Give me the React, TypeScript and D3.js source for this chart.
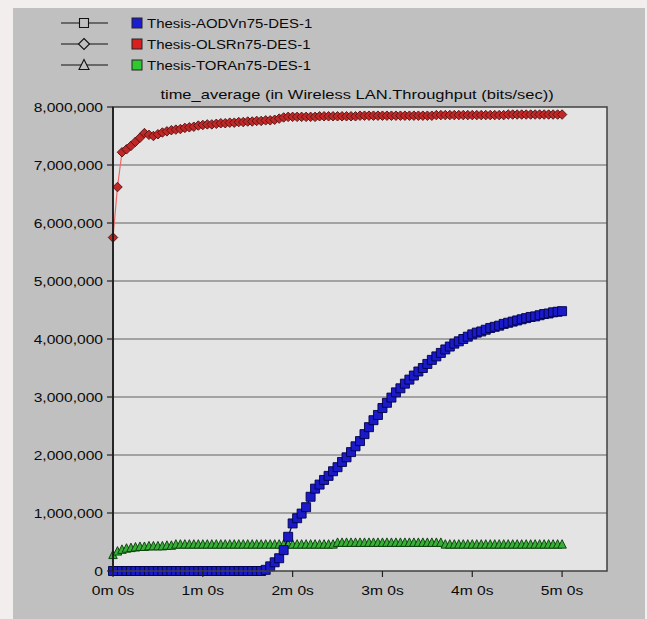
import React from "react";
import * as d3 from "d3";

const W = 647;
const H = 619;

// sample times in minutes (one sample every 3 s)
const times: number[] = d3.range(0, 101).map((i) => i * 0.05);

// values in millions of bits/sec
const olsr: number[] = [
  5.75, 6.62, 7.22, 7.27, 7.33, 7.40, 7.47, 7.55, 7.52, 7.50,
  7.53, 7.56, 7.58, 7.60, 7.61, 7.62, 7.64, 7.65, 7.66, 7.68,
  7.69, 7.70, 7.70, 7.71, 7.72, 7.72, 7.73, 7.73, 7.74, 7.74,
  7.75, 7.75, 7.76, 7.76, 7.77, 7.77, 7.78, 7.80, 7.82, 7.83,
  7.83, 7.83, 7.83, 7.83, 7.83, 7.83, 7.84, 7.84, 7.84, 7.84,
  7.84, 7.84, 7.84, 7.84, 7.84, 7.85, 7.85, 7.85, 7.85, 7.85,
  7.85, 7.85, 7.85, 7.85, 7.85, 7.85, 7.85, 7.85, 7.85, 7.85,
  7.85, 7.85, 7.86, 7.86, 7.86, 7.86, 7.86, 7.86, 7.86, 7.86,
  7.86, 7.86, 7.86, 7.86, 7.86, 7.86, 7.86, 7.86, 7.87, 7.87,
  7.87, 7.87, 7.87, 7.87, 7.87, 7.87, 7.87, 7.87, 7.87, 7.87,
  7.87,
];

const aodv: number[] = [
  0, 0, 0, 0, 0, 0, 0, 0, 0, 0,
  0, 0, 0, 0, 0, 0, 0, 0, 0, 0,
  0, 0, 0, 0, 0, 0, 0, 0, 0, 0,
  0, 0, 0, 0, 0.02, 0.08, 0.15, 0.22, 0.36, 0.59,
  0.82, 0.91, 0.99, 1.10, 1.28, 1.42, 1.49, 1.57, 1.64, 1.72,
  1.79, 1.88, 1.96, 2.05, 2.15, 2.24, 2.36, 2.48, 2.60, 2.69,
  2.81, 2.90, 2.99, 3.08, 3.15, 3.23, 3.30, 3.37, 3.44, 3.50,
  3.57, 3.64, 3.70, 3.76, 3.82, 3.87, 3.92, 3.96, 4.00, 4.04,
  4.08, 4.11, 4.13, 4.16, 4.19, 4.21, 4.23, 4.26, 4.28, 4.30,
  4.32, 4.34, 4.36, 4.38, 4.39, 4.41, 4.43, 4.44, 4.46, 4.47,
  4.48,
];

const tora: number[] = [
  0.28, 0.34, 0.37, 0.39, 0.40, 0.41, 0.42, 0.42, 0.43, 0.43,
  0.43, 0.43, 0.44, 0.44, 0.46, 0.46, 0.46, 0.46, 0.46, 0.46,
  0.46, 0.46, 0.46, 0.46, 0.46, 0.46, 0.46, 0.46, 0.46, 0.46,
  0.46, 0.46, 0.46, 0.46, 0.46, 0.46, 0.46, 0.46, 0.46, 0.46,
  0.46, 0.46, 0.46, 0.46, 0.46, 0.46, 0.46, 0.46, 0.46, 0.46,
  0.49, 0.49, 0.49, 0.49, 0.49, 0.49, 0.49, 0.49, 0.49, 0.49,
  0.49, 0.49, 0.49, 0.49, 0.49, 0.49, 0.49, 0.49, 0.49, 0.49,
  0.49, 0.49, 0.49, 0.49, 0.46, 0.46, 0.46, 0.46, 0.46, 0.46,
  0.46, 0.46, 0.46, 0.46, 0.46, 0.46, 0.46, 0.46, 0.46, 0.46,
  0.46, 0.46, 0.46, 0.46, 0.46, 0.46, 0.46, 0.46, 0.46, 0.46,
  0.46,
];

const seriesNames = ["Thesis-AODVn75-DES-1", "Thesis-OLSRn75-DES-1", "Thesis-TORAn75-DES-1"];
const yTicks = [0, 1e6, 2e6, 3e6, 4e6, 5e6, 6e6, 7e6, 8e6];
const xTicks = [0, 1, 2, 3, 4, 5];
const xTickLabels = ["0m 0s", "1m 0s", "2m 0s", "3m 0s", "4m 0s", "5m 0s"];
const title = "time_average (in Wireless LAN.Throughput (bits/sec))";

const FONT = "'Liberation Sans', Arial, sans-serif";

function squarePath(s: number) {
  return `M${-s / 2},${-s / 2}h${s}v${s}h${-s}Z`;
}
function diamondPath(s: number) {
  return `M0,${-s / 2}L${s / 2},0L0,${s / 2}L${-s / 2},0Z`;
}
function trianglePath(s: number) {
  return `M0,${-s * 0.55}L${s / 2},${s * 0.45}L${-s / 2},${s * 0.45}Z`;
}

function Txt(props: { x: number; y: number; anchor?: string; children: string; size?: number; sx?: number }) {
  const { x, y, anchor = "start", children, size = 13, sx = 1.2 } = props;
  return (
    <text
      transform={`translate(${x},${y}) scale(${sx},1)`}
      textAnchor={anchor}
      fontFamily={FONT}
      fontSize={size}
      fill="#0a0a0a"
    >
      {children}
    </text>
  );
}

export default function App() {
  const x = d3.scaleLinear().domain([0, 5.5]).range([113, 607]);
  const y = d3.scaleLinear().domain([0, 8e6]).range([571, 107]);
  const fmt = d3.format(",");

  const line = d3
    .line<number>()
    .x((_, i) => x(times[i]))
    .y((v) => y(v * 1e6));

  const series = [
    { data: tora, line: "#0a3a0a", fill: "#38b038", stroke: "#083808", shape: trianglePath(8.5) },
    { data: aodv, line: "#00004a", fill: "#1a1ac8", stroke: "#000048", shape: squarePath(9) },
    { data: olsr, line: "#e86a6a", fill: "#c02828", stroke: "#501010", shape: diamondPath(9.5) },
  ];

  const legendY = [23, 44, 65];
  const legendShapes = [squarePath(9), diamondPath(11), trianglePath(10)];
  const legendColors = ["#1c1cd0", "#d82020", "#30c830"];

  return (
    <svg
      width={W}
      height={H}
      style={{ position: "absolute", left: 0, top: 0 }}
    >
      <rect x={0} y={0} width={W} height={H} fill="#f3eeee" />
      <rect x={13} y={8} width={632} height={H - 8} fill="#c0c0c0" />

      {/* legend */}
      {seriesNames.map((name, i) => (
        <g key={name}>
          <line x1={61} x2={108} y1={legendY[i]} y2={legendY[i]} stroke="#111" strokeWidth={1.2} />
          <path d={legendShapes[i]} transform={`translate(84,${legendY[i]})`} fill="#c0c0c0" stroke="#111" strokeWidth={1.1} />
          <rect x={132} y={legendY[i] - 5} width={10} height={10} fill={legendColors[i]} stroke="#222" strokeWidth={1} />
          <Txt x={147} y={legendY[i] + 5} sx={1.15}>{name}</Txt>
        </g>
      ))}

      {/* title */}
      <Txt x={357} y={99} anchor="middle" sx={1.27}>{title}</Txt>

      {/* plot bg */}
      <rect x={113} y={107} width={494} height={464} fill="#e4e4e4" />

      {/* gridlines */}
      {yTicks.slice(1, -1).map((t) => (
        <line key={t} x1={113} x2={607} y1={y(t)} y2={y(t)} stroke="#8c8c8c" strokeWidth={1.5} />
      ))}

      {/* series */}
      {series.map((s, k) => (
        <g key={k}>
          <path d={line(s.data) || ""} fill="none" stroke={s.line} strokeWidth={1.2} />
          {s.data.map((v, i) => (
            <path
              key={i}
              d={s.shape}
              transform={`translate(${x(times[i])},${y(v * 1e6)})`}
              fill={s.fill}
              stroke={s.stroke}
              strokeWidth={0.9}
            />
          ))}
        </g>
      ))}

      {/* frame */}
      <rect x={113} y={107} width={494} height={464} fill="none" stroke="#404040" strokeWidth={1.5} />
      <line x1={113} x2={113} y1={107} y2={572} stroke="#111" strokeWidth={1.5} />

      {/* y axis */}
      {yTicks.map((t) => (
        <g key={t}>
          <line x1={107} x2={113} y1={y(t)} y2={y(t)} stroke="#222" strokeWidth={1.2} />
          <Txt x={103} y={y(t) + 5} anchor="end">{fmt(t)}</Txt>
        </g>
      ))}

      {/* x axis */}
      {xTicks.map((t, i) => (
        <g key={t}>
          <line x1={x(t)} x2={x(t)} y1={571} y2={577} stroke="#222" strokeWidth={1.2} />
          <Txt x={x(t)} y={595} anchor="middle">{xTickLabels[i]}</Txt>
        </g>
      ))}
    </svg>
  );
}
